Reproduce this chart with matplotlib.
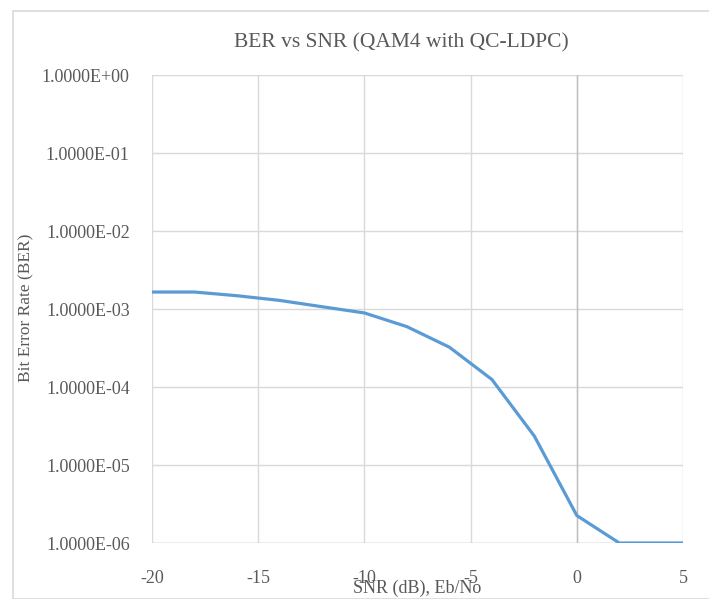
import matplotlib
matplotlib.use("Agg")
import matplotlib.pyplot as plt
from matplotlib.patches import Rectangle
from matplotlib.ticker import FixedLocator, FixedFormatter

snr_db = [-20, -18, -16, -14, -12, -10, -8, -6, -4, -2, 0, 2, 4, 5]
ber = [1.65e-3, 1.65e-3, 1.48e-3, 1.29e-3, 1.07e-3, 8.9e-4, 5.94e-4, 3.24e-4,
       1.25e-4, 2.35e-5, 2.25e-6, 1.0e-6, 1.0e-6, 1.0e-6]

x_ticks = [-20, -15, -10, -5, 0, 5]
y_ticks = [1e-6, 1e-5, 1e-4, 1e-3, 1e-2, 1e-1, 1e0]
y_tick_labels = ["1.0000E-06", "1.0000E-05", "1.0000E-04", "1.0000E-03",
                 "1.0000E-02", "1.0000E-01", "1.0000E+00"]

title = "BER vs SNR (QAM4 with QC-LDPC)"
xlabel = "SNR (dB), Eb/No"
ylabel = "Bit Error Rate (BER)"

plt.rcParams['font.family'] = ['Liberation Serif', 'DejaVu Serif']
W, H = 709, 599
fig = plt.figure(figsize=(W / 100, H / 100), dpi=100)

# chart-area border
fig.patches.append(Rectangle((13 / W, 0), 1.0, 1 - 11 / H, transform=fig.transFigure,
                             fill=False, edgecolor="#d9d9d9", linewidth=1.2))

ax = fig.add_axes([152 / W, 1 - 543 / H, (683 - 152) / W, (543 - 75) / H])
ax.set_yscale("log")
ax.set_xlim(-20, 5)
ax.set_ylim(1e-6, 1e0)
ax.yaxis.set_major_locator(FixedLocator(y_ticks))
ax.yaxis.set_major_formatter(FixedFormatter(y_tick_labels))
ax.yaxis.set_minor_locator(FixedLocator([]))
ax.set_xticks(x_ticks)
ax.set_xticklabels([str(v) for v in x_ticks])

for s in ax.spines.values():
    s.set_visible(False)
ax.grid(True, which="major", color="#d9d9d9", linewidth=1.0)
ax.set_axisbelow(True)
ax.axvline(0, color="#bfbfbf", linewidth=1.0, zorder=1)
ax.axhline(1e-6, color="#bfbfbf", linewidth=1.0, zorder=1)

ax.tick_params(axis="both", length=0, labelsize=13, labelcolor="#595959")
ax.tick_params(axis="x", pad=19.5)
ax.tick_params(axis="y", pad=16)

ax.plot(snr_db, ber, color="#5b9bd5", linewidth=2.3, solid_joinstyle="round", zorder=3)

fig.text(401 / W, 1 - 43 / H, title, ha="center", va="center", fontsize=15.5, color="#595959")
fig.text(417 / W, 1 - 588 / H, xlabel, ha="center", va="center", fontsize=13, color="#595959")
fig.text(26 / W, 1 - 308 / H, ylabel, ha="center", va="center", rotation=90,
         fontsize=12.5, color="#595959")

fig.savefig("out.png", dpi=100, facecolor="white")
